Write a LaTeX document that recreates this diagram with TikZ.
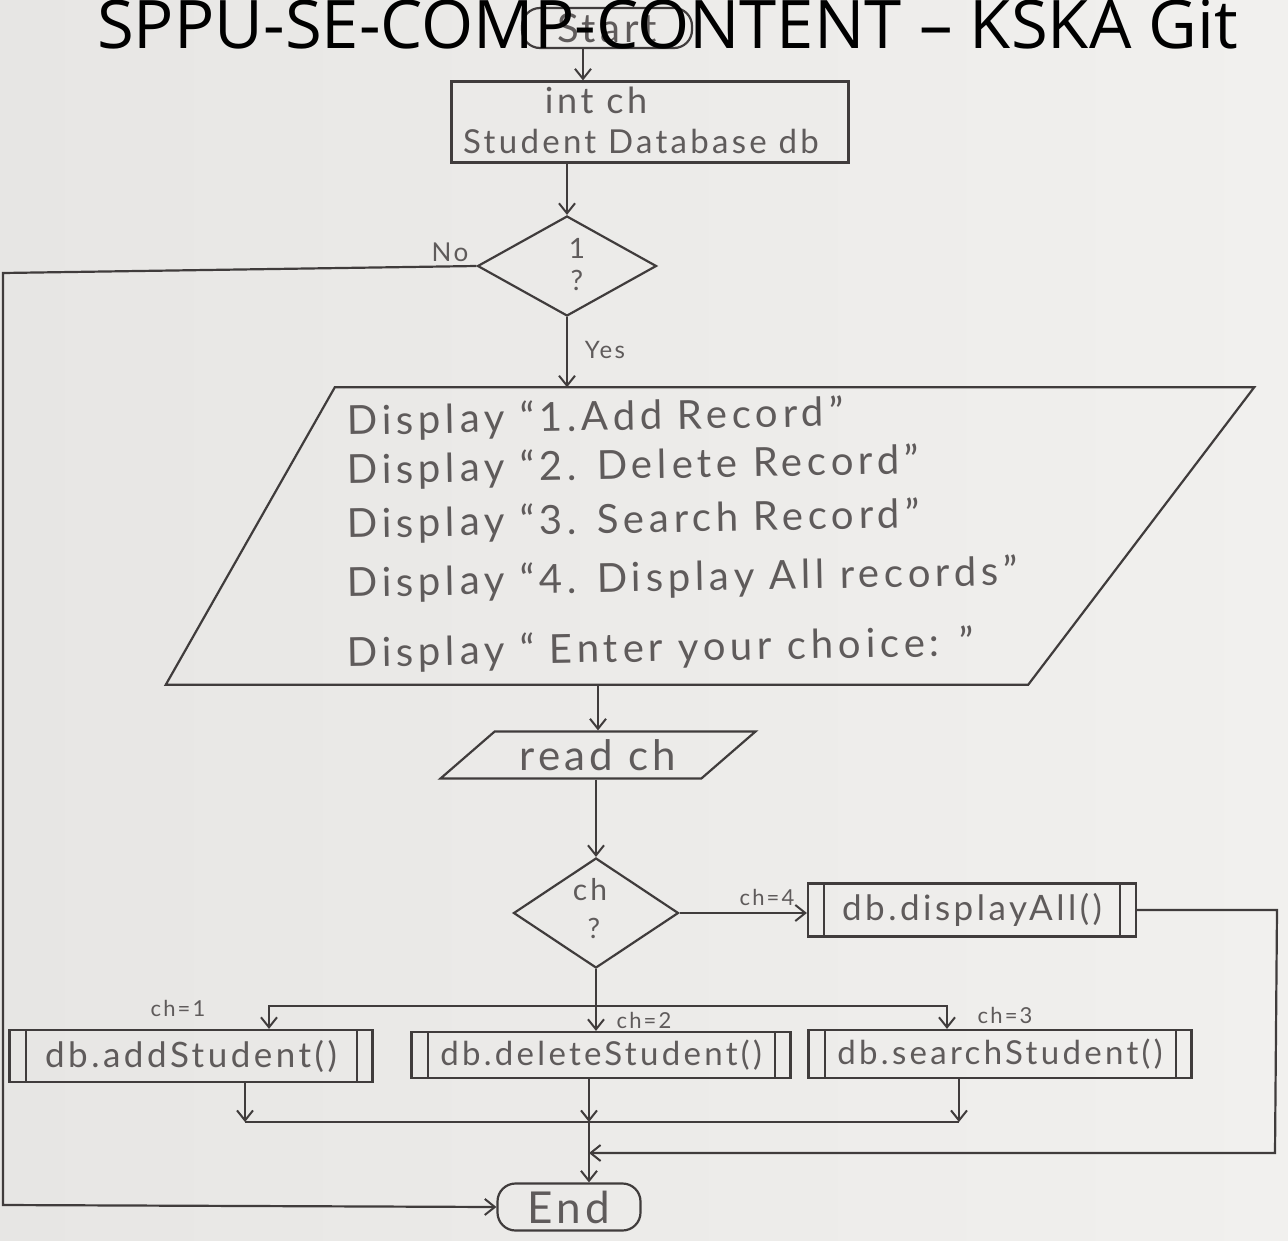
\documentclass[tikz,border=0pt]{standalone}
\usepackage{fontspec}
\usetikzlibrary{shapes.geometric,arrows.meta,calc}
\newfontfamily\titlefont{Open Sans}
\newfontfamily\handfont[LetterSpace=10]{Lato}
\newfontfamily\menufont[LetterSpace=12]{Lato}
\definecolor{paperL}{HTML}{E7E6E4}
\definecolor{paperR}{HTML}{F1F0EE}
\definecolor{ink}{HTML}{403C3C}
\definecolor{pencil}{HTML}{5F5B5B}

\begin{document}
\begin{tikzpicture}[x=1pt,y=-1pt,
  line/.style={draw=ink, line width=2.2pt},
  flow/.style={line, -{Straight Barb[length=10pt,width=16pt,line width=2pt]}},
  hand/.style={text=pencil, inner sep=0pt, font=\handfont\fontsize{#1}{#1}\selectfont},
  menuline/.style={text=pencil, inner sep=0pt, anchor=west, rotate=1,
    font=\menufont\fontsize{40}{40}\selectfont},
  term/.style={line, rectangle, rounded corners=18pt, inner sep=0pt},
  procbox/.style={line, rectangle, inner sep=0pt,
    path picture={
      \draw[ink, line width=2pt]
        ([xshift=16pt]path picture bounding box.north west) -- ([xshift=16pt]path picture bounding box.south west)
        ([xshift=-16pt]path picture bounding box.north east) -- ([xshift=-16pt]path picture bounding box.south east);
    }},
  iobox/.style={line, trapezium, trapezium stretches body, inner sep=0pt},
  choice/.style={line, diamond, inner sep=0pt},
]
% paper
\useasboundingbox (0,0) rectangle (1288,1240);
\shade[left color=paperL, right color=paperR] (0,0) rectangle (1288,1240);

% start and declarations
\node[term, minimum width=170pt, minimum height=40pt, hand=40] (start) at (607,28) {Start};
\node[line, rectangle, minimum width=397pt, minimum height=81pt] (decl) at (650,122) {};
\node[hand=36] (declA) at (596,100) {int ch};
\node[hand=33] (declB) at (641,141) {Student Database db};

% loop condition
\node[choice, minimum width=179pt, minimum height=100pt] (loop) at (567,266) {};
\node[hand=28] (loopA) at (577,248) {1};
\node[hand=28] (loopB) at (577,280) {?};
\node[hand=26] (nolbl) at (450,252) {No};
\node[hand=24] (yeslbl) at (605,350) {Yes};

% menu output: the frame is a parallelogram drawn round an invisible box
\node[rectangle, minimum width=1088pt, minimum height=297pt, inner sep=0pt] (menu) at (710,536) {};
\draw[line] (menu.south west) -- ([xshift=169pt]menu.north west) -- (menu.north east)
  -- ([xshift=-226pt]menu.south east) -- cycle;
\node[menuline] (m1) at (347,423) {Display “1.Add Record”};
\node[menuline] (m2) at (347,472) {Display “2. Delete Record”};
\node[menuline] (m3) at (347,526) {Display “3. Search Record”};
\node[menuline] (m4) at (347,585) {Display “4. Display All records”};
\node[menuline] (m5) at (347,655) {Display “ Enter your choice: ”};

% input
\node[iobox, trapezium left angle=30, trapezium right angle=150,
      minimum width=315pt, minimum height=47pt, hand=42] (read) at (598,755) {read ch};

% switch on choice
\node[choice, minimum width=165pt, minimum height=110pt] (sw) at (596,913) {};
\node[hand=30] (swA) at (590,890) {ch};
\node[hand=28] (swB) at (594,928) {?};

% called procedures
\node[procbox, minimum width=328pt, minimum height=53pt, hand=35] (dispall) at (972,910) {db.displayAll()};
\node[procbox, minimum width=363pt, minimum height=52pt, hand=35] (addst) at (191,1056) {db.addStudent()};
\node[procbox, minimum width=379pt, minimum height=46pt, hand=33] (delst) at (601,1055) {db.deleteStudent()};
\node[procbox, minimum width=383pt, minimum height=48pt, hand=33] (srchst) at (1000,1054) {db.searchStudent()};

\node[hand=22] (c1) at (178,1008) {ch=1};
\node[hand=22] (c2) at (644,1020) {ch=2};
\node[hand=22] (c3) at (1005,1015) {ch=3};
\node[hand=22] (c4) at (767,897) {ch=4};

% end
\node[term, minimum width=143pt, minimum height=47pt, hand=44] (end) at (569,1207) {End};

% routing points
\coordinate (nwcorner) at (3,273);
\coordinate (swcorner) at (3,1205);
\coordinate (bus) at (596,1006);
\coordinate (busL) at (269,1006);
\coordinate (busR) at (947,1006);
\coordinate (mergeL) at (245,1122);
\coordinate (mergeR) at (959,1122);
\coordinate (trunk) at (589,1122);
\coordinate (rtop) at (1277,910);
\coordinate (rbot) at (1275,1153);

% connectors
\draw[flow] ([xshift=-24pt]start.south) -- ([xshift=-24pt]start.south |- decl.north);
\draw[flow] (decl.south -| loop.north) -- (loop.north);
\draw[flow] (loop.south) -- (loop.south |- menu.north);
\draw[flow] (loop.west) -- (nwcorner) -- (swcorner) -- (end.west);
\draw[flow] (read.north |- menu.south) -- (read.north);
\draw[flow] (read.south -| sw.north) -- (sw.north);
\draw[flow] (sw.east) -- (sw.east -| dispall.west);
\draw[line] (sw.south) -- (bus);
\draw[flow] (bus) -- (bus |- delst.north);
\draw[flow] (bus) -- (busL) -- (busL |- addst.north);
\draw[flow] (bus) -- (busR) -- (busR |- srchst.north);
\draw[flow] (addst.south -| mergeL) -- (mergeL);
\draw[line] (mergeL) -- (mergeR);
\draw[flow] (srchst.south -| mergeR) -- (mergeR);
\draw[flow] (delst.south -| trunk) -- (trunk);
\draw[flow] (dispall.east) -- (dispall.east -| rtop) -- (rbot) -- (rbot -| trunk);
\draw[flow] (trunk) -- (trunk |- end.north);

% heading printed over the page
\node[anchor=base west, inner sep=0pt, text=black,
      font=\titlefont\fontsize{67}{67}\selectfont] (title) at (97,48)
      {SPPU-SE-COMP-CONTENT – KSKA Git};
\end{tikzpicture}
\end{document}
